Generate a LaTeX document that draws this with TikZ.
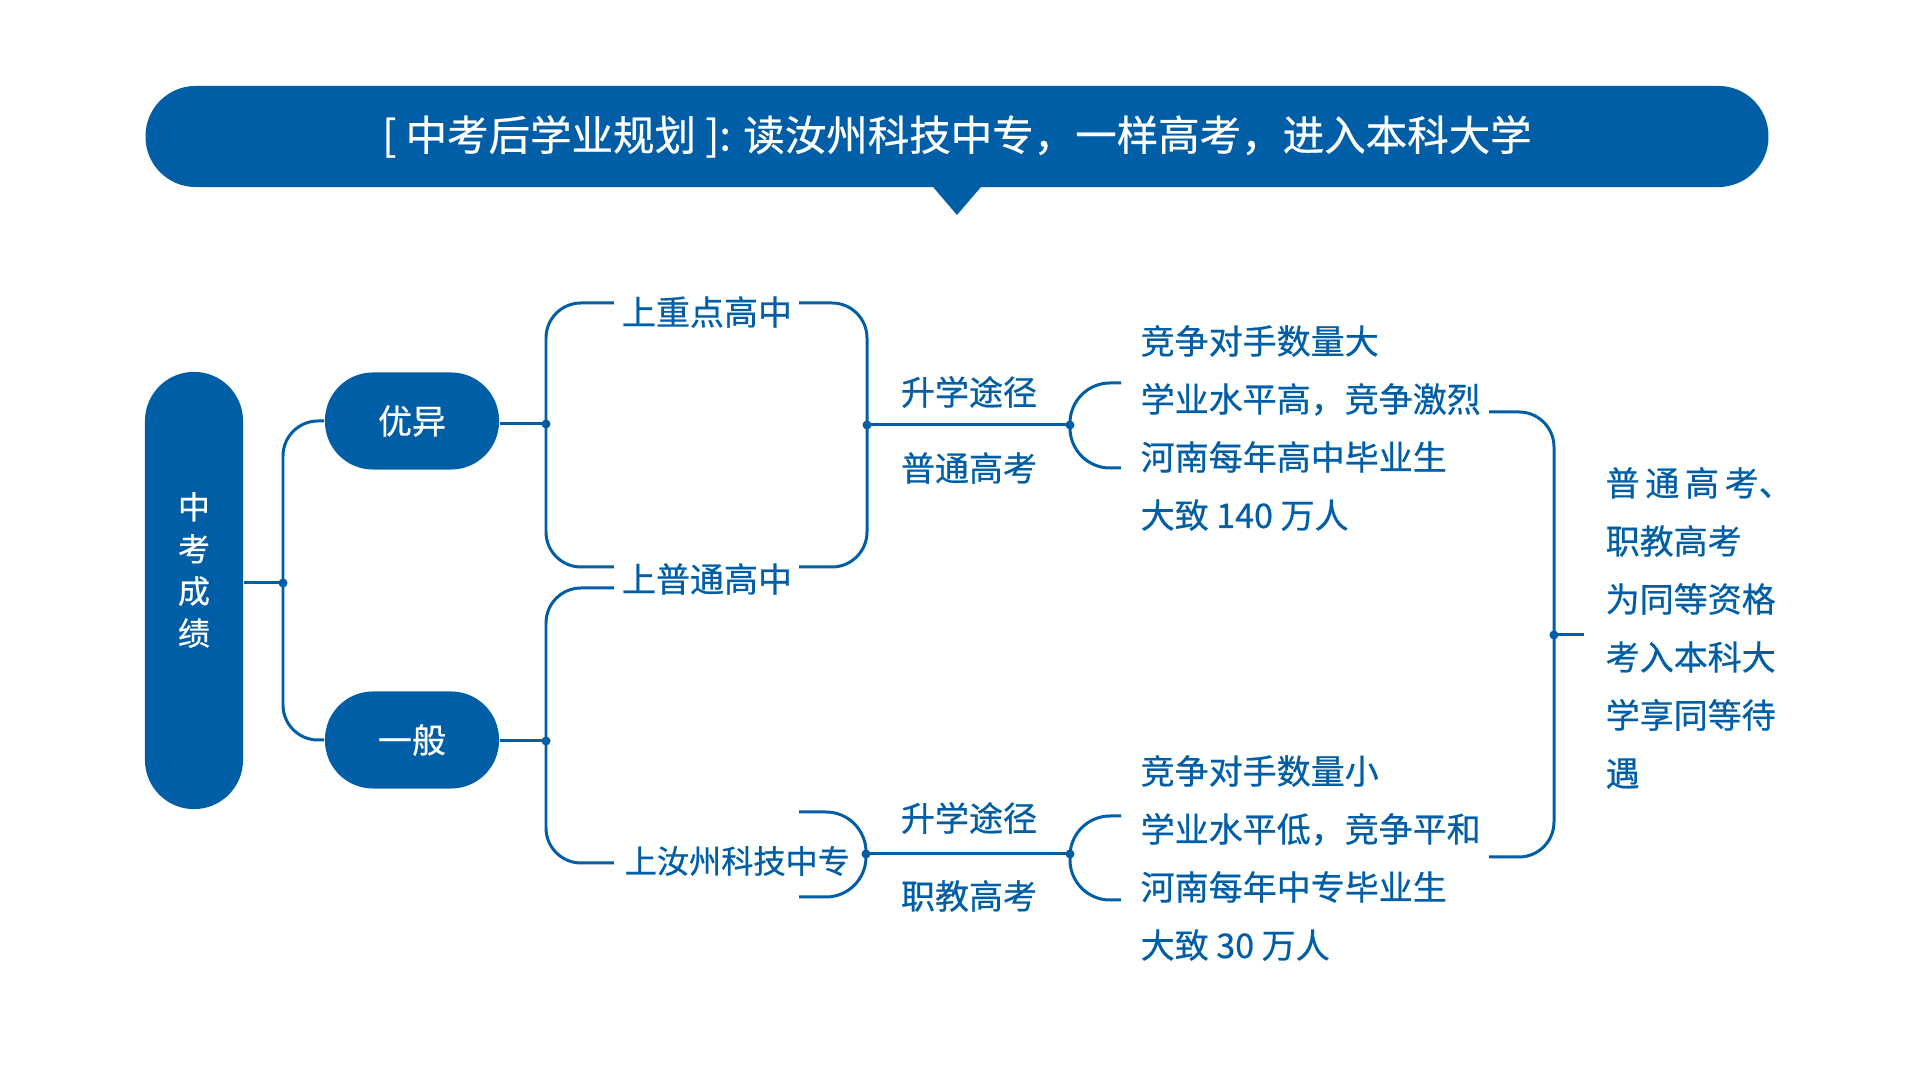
\documentclass[tikz,border=0pt]{standalone}
\usepackage{fontspec}
\setmainfont{Noto Sans CJK SC}[FakeBold=0.6]
\definecolor{zkblue}{RGB}{0,94,166}

\begin{document}
\begin{tikzpicture}[
        x=0.01cm, y=-0.01cm, % 1 单位 = 1 像素
        line/.style = {draw=zkblue, line width=0.85pt}, % 连线
        bracket/.style = {line, rounded corners=0.35cm}, % 括号线
        pill/.style = {fill=zkblue, text=white, inner sep=0pt, rounded corners=0.48cm,
                minimum width=1.74cm, minimum height=0.97cm, font=\fontsize{9.67pt}{12pt}\selectfont},
        txt/.style = {text=zkblue, inner sep=0pt, font=\fontsize{9.67pt}{16.5pt}\selectfont}, % 蓝色文字
        block/.style = {txt, anchor=west, align=left},
    ]
    \useasboundingbox (0,0) rectangle (1920,1080);

    % 标题
    \node[fill=zkblue, text=white, rounded corners=0.5cm, minimum width=16.22cm, minimum height=1.01cm,
        inner sep=0pt, font=\fontsize{11.8pt}{14pt}\selectfont] (title) at (957,136.5)
        {[ 中考后学业规划 ]: 读汝州科技中专，一样高考，进入本科大学};
    \coordinate (tip) at (957,215);
    \fill[zkblue] ([xshift=-0.25cm, yshift=0.02cm]title.south) -- (tip) -- ([xshift=0.25cm, yshift=0.02cm]title.south) -- cycle;

    % 节点
    \node[pill, minimum width=0.98cm, minimum height=4.37cm, rounded corners=0.49cm] (root) at (194,590.5) {};
    \node[text=white, inner sep=0pt, align=center, font=\fontsize{9.1pt}{11.95pt}\selectfont] (roottxt) at (194,570) {中\\考\\成\\绩};
    \node[pill] (youyi) at (412,421) {优异};
    \node[pill] (yiban) at (412,740) {一般};

    \node[txt] (zd) at (707,312) {上重点高中};
    \node[txt] (pt) at (707,579) {上普通高中};
    \node[txt, anchor=west, font=\fontsize{9.15pt}{12pt}\selectfont] (rz) at (624,861) {上汝州科技中专};

    \node[txt] (sx1) at (969,392) {升学途径};
    \node[txt] (pg) at (969,468) {普通高考};
    \node[txt] (sx2) at (969,818) {升学途径};
    \node[txt] (zj) at (969,896) {职教高考};

    \node[block] (infoA) at (1140,428) {竞争对手数量大\\学业水平高，竞争激烈\\河南每年高中毕业生\\大致 140 万人};
    \node[block] (infoB) at (1140,858) {竞争对手数量小\\学业水平低，竞争平和\\河南每年中专毕业生\\大致 30 万人};
    \node[block] (concl) at (1605,628) {\makebox[5em][s]{普\hfill 通\hfill 高\hfill 考\makebox[0.5em][l]{、}}\\职教高考\\为同等资格\\考入本科大\\学享同等待\\遇};

    % 分叉点和括号端点
    \coordinate (j0) at (283,583);
    \coordinate (j1) at (546,424);
    \coordinate (j2) at (546,741);
    \coordinate (j3) at (867,425);
    \coordinate (j4) at (1070,425);
    \coordinate (j5) at (866,854);
    \coordinate (j6) at (1070,854);
    \coordinate (j7) at (1554,635);
    \coordinate (zdL) at (614,303);
    \coordinate (zdR) at (799,303);
    \coordinate (ptL) at (614,567);
    \coordinate (ptR) at (799,567);
    \coordinate (ptL2) at (614,588);
    \coordinate (rzL) at (614,863);
    \coordinate (rzT) at (799,812);
    \coordinate (rzB) at (799,897);
    \coordinate (aT) at (1121,383);
    \coordinate (aB) at (1121,468);
    \coordinate (bT) at (1121,816);
    \coordinate (bB) at (1121,900);
    \coordinate (cT) at (1489,412);
    \coordinate (cB) at (1489,857);
    \coordinate (cE) at (1584,635);

    % 连线
    \draw[line] (root.east |- j0) -- (j0);
    \draw[bracket] (youyi.west) -| (j0) (j0) |- (yiban.west);
    \draw[line] (j1 -| youyi.east) -- (j1);
    \draw[line] (j2 -| yiban.east) -- (j2);
    \draw[bracket] (zdL) -| (j1) (j1) |- (ptL);
    \draw[bracket] (ptL2) -| (j2) (j2) |- (rzL);
    \draw[bracket] (zdR) -| (j3) (j3) |- (ptR);
    \draw[bracket, rounded corners=0.4cm] (rzT) -| (j5) (j5) |- (rzB);
    \draw[line] (j3) -- (j4);
    \draw[line] (j5) -- (j6);
    \draw[bracket, rounded corners=0.4cm] (aT) -| (j4) (j4) |- (aB);
    \draw[bracket, rounded corners=0.4cm] (bT) -| (j6) (j6) |- (bB);
    \draw[bracket] (cT) -| (j7) (j7) |- (cB);
    \draw[line] (j7) -- (cE);

    \foreach \j in {j0,j1,j2,j3,j4,j5,j6,j7}
        \fill[zkblue] (\j) circle (0.045cm);

\end{tikzpicture}
\end{document}
